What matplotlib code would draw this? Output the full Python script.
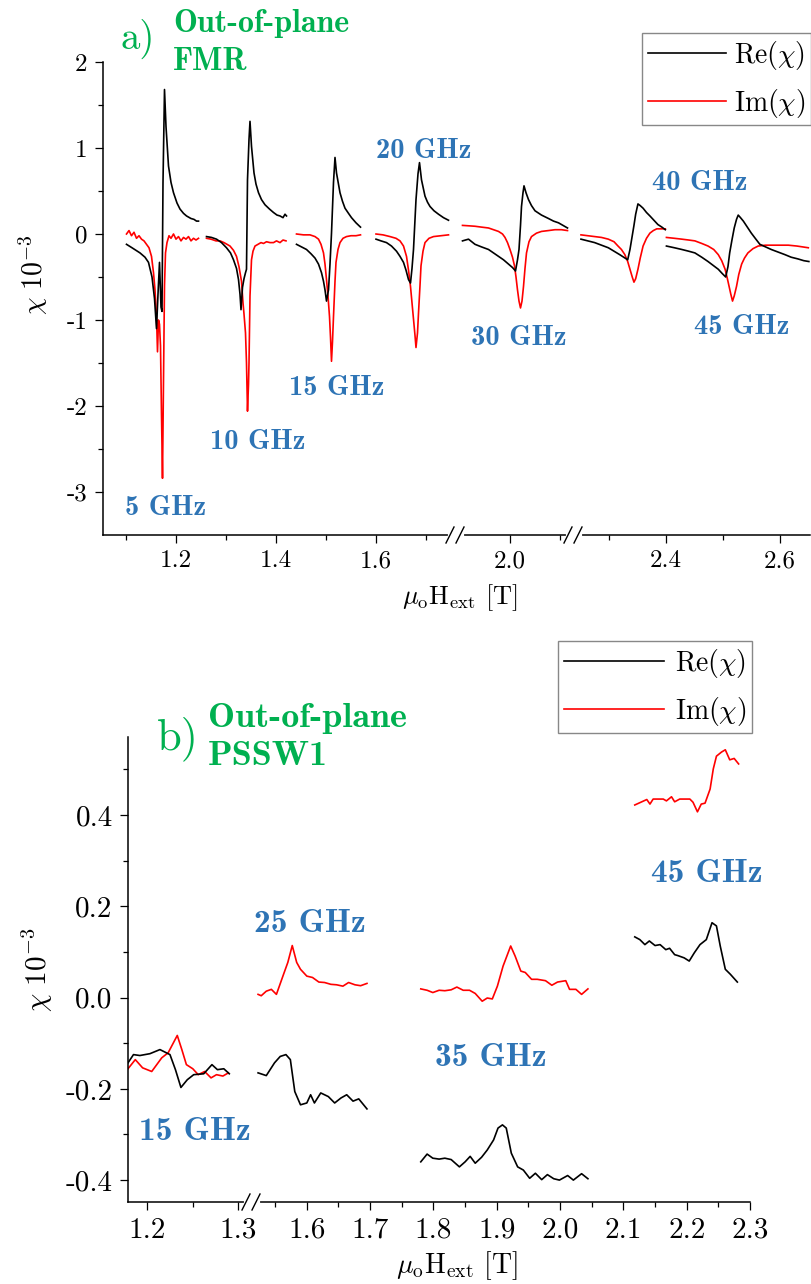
import matplotlib
matplotlib.use("Agg")
import matplotlib.pyplot as plt
from matplotlib.lines import Line2D

# ---------------- data: panel a) (FMR) ----------------
f5_re_x = [1.101, 1.112, 1.128, 1.138, 1.145, 1.152, 1.157, 1.161, 1.164, 1.167, 1.170, 1.172, 1.174, 1.177,
           1.180, 1.185, 1.190, 1.195, 1.202, 1.208, 1.215, 1.221, 1.230, 1.236, 1.241, 1.245]
f5_re_y = [-0.12, -0.16, -0.22, -0.27, -0.33, -0.50, -0.75, -1.10, -0.70, -0.33, -0.85, -0.90, 0.60, 1.68,
           1.25, 0.79, 0.60, 0.48, 0.36, 0.29, 0.24, 0.21, 0.18, 0.17, 0.15, 0.15]
f5_im_x = [1.101, 1.106, 1.111, 1.116, 1.121, 1.126, 1.131, 1.136, 1.141, 1.146, 1.151, 1.155, 1.158, 1.161,
           1.163, 1.165, 1.167, 1.169, 1.171, 1.173, 1.175, 1.177, 1.179, 1.182, 1.186, 1.190, 1.195, 1.200,
           1.205, 1.210, 1.215, 1.220, 1.225, 1.230, 1.235, 1.240, 1.245]
f5_im_y = [0.00, 0.04, -0.02, 0.02, -0.05, -0.02, -0.06, -0.08, -0.12, -0.16, -0.26, -0.45, -0.65, -0.95,
           -1.37, -1.00, -1.05, -1.30, -2.10, -2.84, -1.70, -0.60, -0.22, -0.10, -0.02, -0.05, 0.00, -0.06,
           -0.03, -0.08, -0.04, -0.06, -0.03, -0.08, -0.05, -0.07, -0.05]

f10_re_x = [1.261, 1.271, 1.281, 1.291, 1.301, 1.309, 1.315, 1.321, 1.325, 1.328, 1.330, 1.333, 1.336, 1.339,
            1.341, 1.343, 1.346, 1.348, 1.351, 1.356, 1.360, 1.365, 1.371, 1.378, 1.387, 1.395, 1.402, 1.408,
            1.414, 1.418, 1.421]
f10_re_y = [-0.03, -0.04, -0.06, -0.10, -0.16, -0.22, -0.30, -0.40, -0.53, -0.70, -0.88, -0.62, -0.52, -0.45,
            -0.41, 0.63, 1.10, 1.31, 1.02, 0.71, 0.58, 0.48, 0.40, 0.34, 0.29, 0.25, 0.22, 0.21, 0.19, 0.23, 0.21]
f10_im_x = [1.261, 1.270, 1.280, 1.288, 1.296, 1.302, 1.308, 1.315, 1.321, 1.326, 1.331, 1.334, 1.336, 1.339,
            1.341, 1.343, 1.345, 1.346, 1.348, 1.351, 1.354, 1.358, 1.364, 1.370, 1.375, 1.381, 1.388, 1.395,
            1.401, 1.408, 1.414, 1.420]
f10_im_y = [-0.05, -0.06, -0.08, -0.08, -0.10, -0.12, -0.14, -0.19, -0.26, -0.38, -0.55, -0.80, -0.93, -1.15,
            -1.50, -2.06, -1.75, -1.50, -0.72, -0.30, -0.20, -0.14, -0.12, -0.10, -0.11, -0.09, -0.10, -0.10,
            -0.08, -0.10, -0.07, -0.08]

f15_re_x = [1.441, 1.451, 1.461, 1.470, 1.478, 1.485, 1.491, 1.495, 1.498, 1.501, 1.505, 1.508, 1.511, 1.515,
            1.518, 1.521, 1.528, 1.533, 1.538, 1.545, 1.551, 1.560, 1.569]
f15_re_y = [-0.12, -0.15, -0.18, -0.23, -0.28, -0.35, -0.45, -0.55, -0.65, -0.78, -0.65, -0.35, 0.01, 0.60,
            0.89, 0.71, 0.48, 0.38, 0.30, 0.24, 0.19, 0.13, 0.08]
f15_im_x = [1.441, 1.455, 1.468, 1.478, 1.485, 1.490, 1.495, 1.498, 1.501, 1.504, 1.507, 1.509, 1.511, 1.513,
            1.515, 1.518, 1.520, 1.524, 1.528, 1.534, 1.541, 1.550, 1.560, 1.569]
f15_im_y = [0.00, -0.01, -0.01, -0.03, -0.06, -0.12, -0.22, -0.35, -0.53, -0.72, -0.96, -1.20, -1.48, -1.25,
            -0.96, -0.55, -0.33, -0.18, -0.10, -0.05, -0.03, -0.02, -0.02, -0.01]

f20_re_x = [1.600, 1.610, 1.621, 1.631, 1.641, 1.648, 1.655, 1.660, 1.665, 1.669, 1.672, 1.675, 1.680, 1.684,
            1.687, 1.691, 1.698, 1.703, 1.708, 1.716, 1.725, 1.735, 1.745]
f20_re_y = [-0.06, -0.08, -0.10, -0.14, -0.20, -0.26, -0.33, -0.42, -0.53, -0.57, -0.40, -0.18, 0.40, 0.70,
            0.83, 0.63, 0.44, 0.37, 0.32, 0.27, 0.23, 0.19, 0.16]
f20_im_x = [1.600, 1.614, 1.628, 1.640, 1.648, 1.655, 1.661, 1.665, 1.669, 1.672, 1.675, 1.678, 1.680, 1.683,
            1.685, 1.688, 1.690, 1.694, 1.698, 1.706, 1.715, 1.730, 1.745]
f20_im_y = [0.00, -0.01, -0.03, -0.05, -0.08, -0.14, -0.26, -0.42, -0.61, -0.80, -0.99, -1.18, -1.32, -1.15,
            -0.92, -0.60, -0.37, -0.20, -0.10, -0.05, -0.03, -0.02, -0.01]

f30_re_x = [1.905, 1.917, 1.930, 1.943, 1.957, 1.967, 1.977, 1.987, 1.997, 2.005, 2.011, 2.015, 2.018, 2.021,
            2.023, 2.026, 2.028, 2.032, 2.037, 2.043, 2.050, 2.063, 2.077, 2.087, 2.097, 2.106, 2.115]
f30_re_y = [-0.08, -0.06, -0.12, -0.15, -0.18, -0.22, -0.26, -0.30, -0.35, -0.39, -0.43, -0.30, -0.18, 0.10,
            0.32, 0.48, 0.56, 0.48, 0.40, 0.33, 0.27, 0.22, 0.18, 0.15, 0.13, 0.10, 0.07]
f30_im_x = [1.905, 1.918, 1.930, 1.943, 1.957, 1.967, 1.977, 1.985, 1.990, 1.995, 2.000, 2.005, 2.009, 2.012,
            2.015, 2.018, 2.021, 2.024, 2.027, 2.030, 2.033, 2.038, 2.043, 2.053, 2.063, 2.077, 2.090, 2.103, 2.115]
f30_im_y = [0.10, 0.095, 0.09, 0.08, 0.07, 0.05, 0.03, 0.00, -0.04, -0.10, -0.18, -0.27, -0.37, -0.50,
            -0.65, -0.78, -0.86, -0.78, -0.61, -0.40, -0.22, -0.09, -0.03, 0.01, 0.03, 0.04, 0.05, 0.05, 0.04]

f40_re_x = [2.251, 2.263, 2.275, 2.287, 2.299, 2.309, 2.319, 2.326, 2.333, 2.337, 2.340, 2.344, 2.347, 2.351,
            2.355, 2.360, 2.366, 2.372, 2.379, 2.386, 2.393, 2.399]
f40_re_y = [-0.06, -0.08, -0.10, -0.13, -0.16, -0.20, -0.24, -0.27, -0.30, -0.18, -0.06, 0.10, 0.23, 0.35,
            0.33, 0.30, 0.25, 0.21, 0.16, 0.11, 0.08, 0.05]
f40_im_x = [2.251, 2.263, 2.275, 2.287, 2.299, 2.309, 2.316, 2.322, 2.328, 2.333, 2.337, 2.341, 2.344, 2.347,
            2.351, 2.355, 2.360, 2.366, 2.372, 2.378, 2.384, 2.392, 2.399]
f40_im_y = [-0.01, -0.02, -0.03, -0.04, -0.06, -0.09, -0.14, -0.18, -0.24, -0.32, -0.41, -0.50, -0.56, -0.52,
            -0.41, -0.28, -0.14, -0.05, 0.01, 0.04, 0.06, 0.06, 0.06]

f45_re_x = [2.401, 2.415, 2.428, 2.440, 2.451, 2.463, 2.474, 2.484, 2.492, 2.499, 2.505, 2.509, 2.512, 2.516,
            2.520, 2.524, 2.527, 2.531, 2.536, 2.543, 2.550, 2.558, 2.565, 2.575, 2.585, 2.597, 2.609, 2.620,
            2.632, 2.642, 2.651]
f45_re_y = [-0.14, -0.16, -0.18, -0.20, -0.22, -0.27, -0.32, -0.37, -0.41, -0.46, -0.50, -0.38, -0.22, -0.07,
            0.07, 0.17, 0.22, 0.19, 0.15, 0.08, 0.01, -0.06, -0.12, -0.15, -0.18, -0.21, -0.24, -0.27, -0.29,
            -0.31, -0.32]
f45_im_x = [2.401, 2.415, 2.428, 2.440, 2.451, 2.463, 2.474, 2.484, 2.492, 2.498, 2.504, 2.508, 2.511, 2.514,
            2.517, 2.520, 2.524, 2.528, 2.533, 2.538, 2.544, 2.553, 2.562, 2.575, 2.585, 2.600, 2.615, 2.630,
            2.640, 2.650]
f45_im_y = [-0.04, -0.05, -0.06, -0.07, -0.08, -0.11, -0.14, -0.18, -0.24, -0.31, -0.41, -0.52, -0.61, -0.70,
            -0.78, -0.72, -0.61, -0.47, -0.35, -0.28, -0.22, -0.17, -0.14, -0.13, -0.13, -0.13, -0.13, -0.14,
            -0.15, -0.16]

# ---------------- data: panel b) (PSSW1) ----------------
p15_re_x = [1.179, 1.185, 1.192, 1.203, 1.214, 1.225, 1.231, 1.237, 1.244, 1.251, 1.262, 1.271, 1.277, 1.284, 1.290]
p15_re_y = [-0.143, -0.125, -0.127, -0.123, -0.114, -0.125, -0.158, -0.197, -0.180, -0.169, -0.167, -0.147,
            -0.158, -0.156, -0.167]
p15_im_x = [1.179, 1.187, 1.195, 1.205, 1.216, 1.223, 1.233, 1.238, 1.243, 1.250, 1.256, 1.263, 1.270, 1.276,
            1.283, 1.289]
p15_im_y = [-0.156, -0.136, -0.154, -0.162, -0.132, -0.121, -0.083, -0.114, -0.147, -0.156, -0.169, -0.162,
            -0.176, -0.169, -0.172, -0.165]

p25_re_x = [1.523, 1.536, 1.549, 1.558, 1.567, 1.574, 1.581, 1.590, 1.600, 1.606, 1.612, 1.622, 1.634, 1.644,
            1.654, 1.663, 1.673, 1.682, 1.695]
p25_re_y = [-0.165, -0.171, -0.143, -0.129, -0.125, -0.136, -0.206, -0.235, -0.231, -0.213, -0.231, -0.209,
            -0.217, -0.231, -0.220, -0.213, -0.227, -0.222, -0.244]
p25_im_x = [1.523, 1.528, 1.536, 1.544, 1.552, 1.563, 1.570, 1.577, 1.584, 1.590, 1.600, 1.609, 1.619, 1.628,
            1.638, 1.647, 1.657, 1.666, 1.676, 1.685, 1.695]
p25_im_y = [0.007, 0.004, 0.014, 0.018, 0.007, 0.050, 0.077, 0.114, 0.077, 0.062, 0.047, 0.044, 0.034, 0.033,
            0.029, 0.028, 0.025, 0.033, 0.028, 0.026, 0.031]

p35_re_x = [1.780, 1.790, 1.799, 1.809, 1.818, 1.828, 1.841, 1.850, 1.858, 1.866, 1.876, 1.885, 1.895, 1.902,
            1.909, 1.915, 1.923, 1.933, 1.942, 1.952, 1.961, 1.971, 1.980, 1.990, 1.999, 2.012, 2.021, 2.034, 2.044]
p35_re_y = [-0.360, -0.343, -0.352, -0.354, -0.352, -0.355, -0.371, -0.360, -0.348, -0.363, -0.350, -0.334,
            -0.312, -0.286, -0.279, -0.286, -0.341, -0.371, -0.378, -0.396, -0.385, -0.399, -0.388, -0.397,
            -0.400, -0.390, -0.400, -0.386, -0.397]
p35_im_x = [1.780, 1.790, 1.799, 1.809, 1.818, 1.828, 1.837, 1.847, 1.857, 1.866, 1.877, 1.885, 1.893, 1.901,
            1.910, 1.922, 1.929, 1.938, 1.945, 1.955, 1.964, 1.977, 1.987, 1.996, 2.009, 2.015, 2.025, 2.034, 2.044]
p35_im_y = [0.019, 0.016, 0.011, 0.016, 0.015, 0.017, 0.023, 0.016, 0.016, 0.009, -0.008, -0.001, -0.003,
            0.025, 0.069, 0.113, 0.091, 0.058, 0.055, 0.040, 0.040, 0.037, 0.027, 0.034, 0.037, 0.018, 0.018,
            0.007, 0.019]

p45_re_x = [2.118, 2.126, 2.134, 2.141, 2.150, 2.158, 2.167, 2.173, 2.181, 2.186, 2.196, 2.204, 2.212, 2.221,
            2.231, 2.240, 2.247, 2.253, 2.261, 2.269, 2.280]
p45_re_y = [0.133, 0.127, 0.116, 0.124, 0.114, 0.116, 0.105, 0.108, 0.094, 0.092, 0.087, 0.080, 0.098, 0.116,
            0.127, 0.164, 0.157, 0.113, 0.062, 0.051, 0.034]
p45_im_x = [2.118, 2.137, 2.142, 2.147, 2.163, 2.168, 2.176, 2.181, 2.189, 2.205, 2.210, 2.217, 2.223, 2.229,
            2.237, 2.242, 2.247, 2.255, 2.261, 2.268, 2.275, 2.282]
p45_im_y = [0.422, 0.434, 0.424, 0.435, 0.435, 0.431, 0.440, 0.429, 0.435, 0.435, 0.428, 0.407, 0.424, 0.426,
            0.457, 0.501, 0.529, 0.538, 0.543, 0.521, 0.524, 0.512]

labels_legend = ["Re($\\chi$)", "Im($\\chi$)"]

# ---------------- style ----------------
W, H = 812, 1284
plt.rcParams.update({
    "font.family": "cmr10",
    "mathtext.fontset": "cm",
    "axes.unicode_minus": False,
    "axes.formatter.use_mathtext": True,
})
BLUE = "#2e74b5"
GREEN = "#00b050"
RED = "#ff0000"

fig = plt.figure(figsize=(W / 100, H / 100), dpi=100)
fig.patch.set_facecolor("white")


def add_ax(l, r, t, b):
    return fig.add_axes([l / W, 1 - b / H, (r - l) / W, (b - t) / H])


def style(ax, left, fs):
    for s in ["top", "right"]:
        ax.spines[s].set_visible(False)
    ax.spines["left"].set_visible(left)
    ax.spines["bottom"].set_linewidth(1.1)
    ax.spines["left"].set_linewidth(1.1)
    ax.patch.set_alpha(0)
    ax.tick_params(which="major", direction="out", length=6, width=0.9, labelsize=fs, pad=5)
    ax.tick_params(which="minor", direction="out", length=3.5, width=0.9)
    if not left:
        ax.tick_params(axis="y", which="both", left=False, labelleft=False)


def fxy(x, y):
    return x / W, 1 - y / H


def brk(x, y):
    a, b = fxy(x - 6, y)
    c, d = fxy(x + 6, y)
    fig.add_artist(Line2D([a, c], [b, d], color="white", lw=3, transform=fig.transFigure, zorder=10))
    for dx in (-6, 4):
        p0 = fxy(x + dx - 4, y + 8)
        p1 = fxy(x + dx + 4, y - 8)
        fig.add_artist(Line2D([p0[0], p1[0]], [p0[1], p1[1]], color="black", lw=1.0,
                              transform=fig.transFigure, zorder=11))


LW = 1.2
TFS = 18

# ---------------- panel a ----------------
a1 = add_ax(103, 455, 62, 535)
a2 = add_ax(455, 573, 62, 535)
a3 = add_ax(573, 810, 62, 535)
a1.set_xlim(1.054, 1.758)
a2.set_xlim(1.89, 2.126)
a3.set_xlim(2.237, 2.653)
for ax, left in ((a1, True), (a2, False), (a3, False)):
    ax.set_ylim(-3.5, 2.0)
    style(ax, left, TFS)

a1.set_yticks([-3, -2, -1, 0, 1, 2], labels=["-3", "-2", "-1", "0", "1", "2"])
a1.set_yticks([-2.5, -1.5, -0.5, 0.5, 1.5], minor=True)
a1.set_xticks([1.2, 1.4, 1.6], labels=["1.2", "1.4", "1.6"])
a1.set_xticks([1.1, 1.3, 1.5, 1.7], minor=True)
a2.set_xticks([2.0], labels=["2.0"])
a2.set_xticks([2.1], minor=True)
a3.set_xticks([2.4, 2.6], labels=["2.4", "2.6"])
a3.set_xticks([2.3, 2.5], minor=True)

for ax, segs in ((a1, [(f5_re_x, f5_re_y, f5_im_x, f5_im_y), (f10_re_x, f10_re_y, f10_im_x, f10_im_y),
                       (f15_re_x, f15_re_y, f15_im_x, f15_im_y), (f20_re_x, f20_re_y, f20_im_x, f20_im_y)]),
                 (a2, [(f30_re_x, f30_re_y, f30_im_x, f30_im_y)]),
                 (a3, [(f40_re_x, f40_re_y, f40_im_x, f40_im_y), (f45_re_x, f45_re_y, f45_im_x, f45_im_y)])):
    for rx, ry, ix, iy in segs:
        ax.plot(ix, iy, color=RED, lw=LW)
        ax.plot(rx, ry, color="black", lw=LW)

brk(456, 535)
brk(574, 535)

for s, x, y in (("5 GHz", 166, 508), ("10 GHz", 258, 442), ("15 GHz", 337, 388), ("20 GHz", 424, 151),
                ("30 GHz", 519, 338), ("40 GHz", 700, 183), ("45 GHz", 742, 327)):
    fig.text(*fxy(x, y), s, color=BLUE, fontfamily="cmb10", fontsize=20.5, ha="center", va="center")

fig.text(*fxy(121, 49), "a)", color=GREEN, fontsize=28, ha="left", va="baseline")
fig.text(*fxy(173, 32), "Out-of-plane", color=GREEN, fontfamily="cmb10", fontsize=23, ha="left", va="baseline")
fig.text(*fxy(173, 70), "FMR", color=GREEN, fontfamily="cmb10", fontsize=23, ha="left", va="baseline")

fig.text(*fxy(33, 275), r"$\chi\ 10^{-3}$", fontsize=20, rotation=90, ha="center", va="center")
fig.text(*fxy(460, 598), r"$\mu_{\rm o}{\rm H}_{\rm ext}$ [T]", fontsize=19, ha="center", va="center")

h = [Line2D([], [], color="black", lw=1.2), Line2D([], [], color=RED, lw=1.2)]
fig.legend(h, labels_legend, loc="upper right", bbox_to_anchor=fxy(811, 33), bbox_transform=fig.transFigure,
           frameon=True, fancybox=False, edgecolor="#888888", framealpha=1, fontsize=20, handlelength=2.8,
           handletextpad=0.3, borderaxespad=0, borderpad=0.2, labelspacing=0.55)

# ---------------- panel b ----------------
b1 = add_ax(128, 253, 737, 1202)
b2 = add_ax(253, 750, 737, 1202)
b1.set_xlim(1.179, 1.316)
b2.set_xlim(1.515, 2.3)
BFS = 21
for ax, left in ((b1, True), (b2, False)):
    ax.set_ylim(-0.448, 0.571)
    style(ax, left, BFS)
b1.set_yticks([-0.4, -0.2, 0.0, 0.2, 0.4], labels=["-0.4", "-0.2", "0.0", "0.2", "0.4"])
b1.set_yticks([-0.3, -0.1, 0.1, 0.3, 0.5], minor=True)
b1.set_xticks([1.2, 1.3], labels=["1.2", "1.3"])
b1.set_xticks([1.25], minor=True)
b2_major = [1.6, 1.7, 1.8, 1.9, 2.0, 2.1, 2.2, 2.3]
b2.set_xticks(b2_major, labels=["1.6", "1.7", "1.8", "1.9", "2.0", "2.1", "2.2", "2.3"])
b2.set_xticks([1.55, 1.65, 1.75, 1.85, 1.95, 2.05, 2.15, 2.25], minor=True)
for ax in (b1, b2):
    ax.xaxis.get_majorticklabels()[-1].set_clip_on(False)

b1.plot(p15_im_x, p15_im_y, color=RED, lw=LW)
b1.plot(p15_re_x, p15_re_y, color="black", lw=LW)
for rx, ry, ix, iy in ((p25_re_x, p25_re_y, p25_im_x, p25_im_y), (p35_re_x, p35_re_y, p35_im_x, p35_im_y),
                       (p45_re_x, p45_re_y, p45_im_x, p45_im_y)):
    b2.plot(ix, iy, color=RED, lw=LW)
    b2.plot(rx, ry, color="black", lw=LW)

brk(252, 1202)

for s, x, y in (("15 GHz", 195, 1131), ("25 GHz", 310, 924), ("35 GHz", 491, 1058), ("45 GHz", 707, 873)):
    fig.text(*fxy(x, y), s, color=BLUE, fontfamily="cmb10", fontsize=24, ha="center", va="center")

fig.text(*fxy(157, 749), "b)", color=GREEN, fontsize=32, ha="left", va="baseline")
fig.text(*fxy(208, 727), "Out-of-plane", color=GREEN, fontfamily="cmb10", fontsize=26, ha="left", va="baseline")
fig.text(*fxy(208, 765), "PSSW1", color=GREEN, fontfamily="cmb10", fontsize=26, ha="left", va="baseline")

fig.text(*fxy(37, 970), r"$\chi\ 10^{-3}$", fontsize=21, rotation=90, ha="center", va="center")
fig.text(*fxy(457, 1266), r"$\mu_{\rm o}{\rm H}_{\rm ext}$ [T]", fontsize=20, ha="center", va="center")

h2 = [Line2D([], [], color="black", lw=1.2), Line2D([], [], color=RED, lw=1.2)]
fig.legend(h2, labels_legend, loc="upper right", bbox_to_anchor=fxy(752, 641), bbox_transform=fig.transFigure,
           frameon=True, fancybox=False, edgecolor="#888888", framealpha=1, fontsize=20, handlelength=3.6,
           handletextpad=0.4, borderaxespad=0, borderpad=0.2, labelspacing=0.55)

fig.savefig("out.png", dpi=100, facecolor="white")
